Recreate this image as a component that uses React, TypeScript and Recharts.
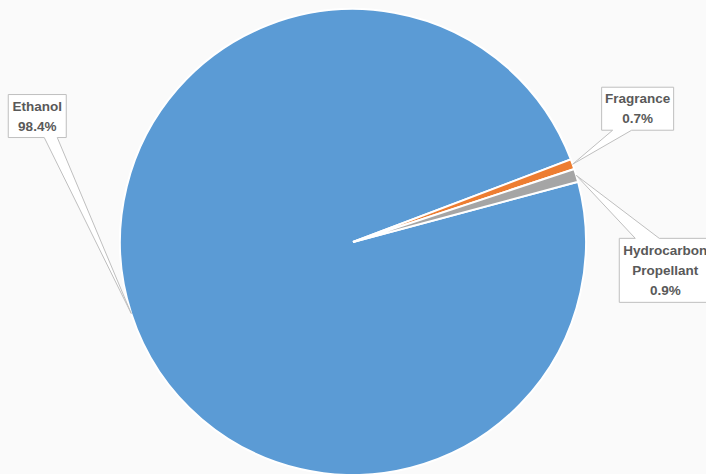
import { Cell, Pie, PieChart } from "recharts";

const names = ["Ethanol", "Fragrance", "Hydrocarbon Propellant"];
const shares = [98.4, 0.7, 0.9];
const labelLines = [["Ethanol"], ["Fragrance"], ["Hydrocarbon", "Propellant"]];
const percentLabels = ["98.4%", "0.7%", "0.9%"];

const COLORS = ["#5B9BD5", "#ED7D31", "#A5A5A5"];

const data = names.map((name, i) => ({ name, value: shares[i] }));

// callout box placement relative to the slice's edge point
const CALLOUTS = [
  { dx: -123, dy: -219, w: 58, h: 43, side: "bottom", p1: 36, p2: 49 },
  { dx: 29, dy: -77, w: 72, h: 43, side: "bottom", p1: 11, p2: 30 },
  { dx: 43, dy: 63, w: 92, h: 64, side: "top", p1: 16, p2: 40 },
];

const RAD = Math.PI / 180;

function Callout(props: any) {
  const { cx, cy, midAngle, outerRadius, index } = props;
  const ax = cx + outerRadius * Math.cos(-midAngle * RAD);
  const ay = cy + outerRadius * Math.sin(-midAngle * RAD);
  const c = CALLOUTS[index];
  const x = ax + c.dx;
  const y = ay + c.dy;
  const r = x + c.w;
  const b = y + c.h;
  const d =
    c.side === "bottom"
      ? `M${x},${y} L${r},${y} L${r},${b} L${x + c.p2},${b} L${ax},${ay} L${x + c.p1},${b} L${x},${b} Z`
      : `M${x},${y} L${x + c.p1},${y} L${ax},${ay} L${x + c.p2},${y} L${r},${y} L${r},${b} L${x},${b} Z`;
  const lines = [...labelLines[index], percentLabels[index]];
  const midY = y + c.h / 2;
  const step = 20;
  return (
    <g>
      <path d={d} fill="#ffffff" stroke="#bfbfbf" strokeWidth={1} />
      {lines.map((t, i) => (
        <text
          key={i}
          x={x + c.w / 2}
          y={midY + (i - (lines.length - 1) / 2) * step}
          textAnchor="middle"
          dominantBaseline="central"
          fill="#595959"
          fontSize={13.5}
          fontWeight="bold"
          fontFamily="'Liberation Sans', Arial, sans-serif"
        >
          {t}
        </text>
      ))}
    </g>
  );
}

export default function App() {
  return (
    <div style={{ position: "absolute", left: 0, top: 0, width: 706, height: 474, background: "#fafafa", overflow: "hidden" }}>
      <style>{`body{margin:0}`}</style>
      <PieChart width={706} height={474}>
        <Pie
          data={data}
          dataKey="value"
          nameKey="name"
          cx={348}
          cy={237}
          outerRadius={233}
          startAngle={15}
          endAngle={-345}
          stroke="#ffffff"
          strokeWidth={2}
          label={Callout}
          labelLine={false}
          isAnimationActive={false}
        >
          {data.map((_, i) => (
            <Cell key={i} fill={COLORS[i]} />
          ))}
        </Pie>
      </PieChart>
    </div>
  );
}
